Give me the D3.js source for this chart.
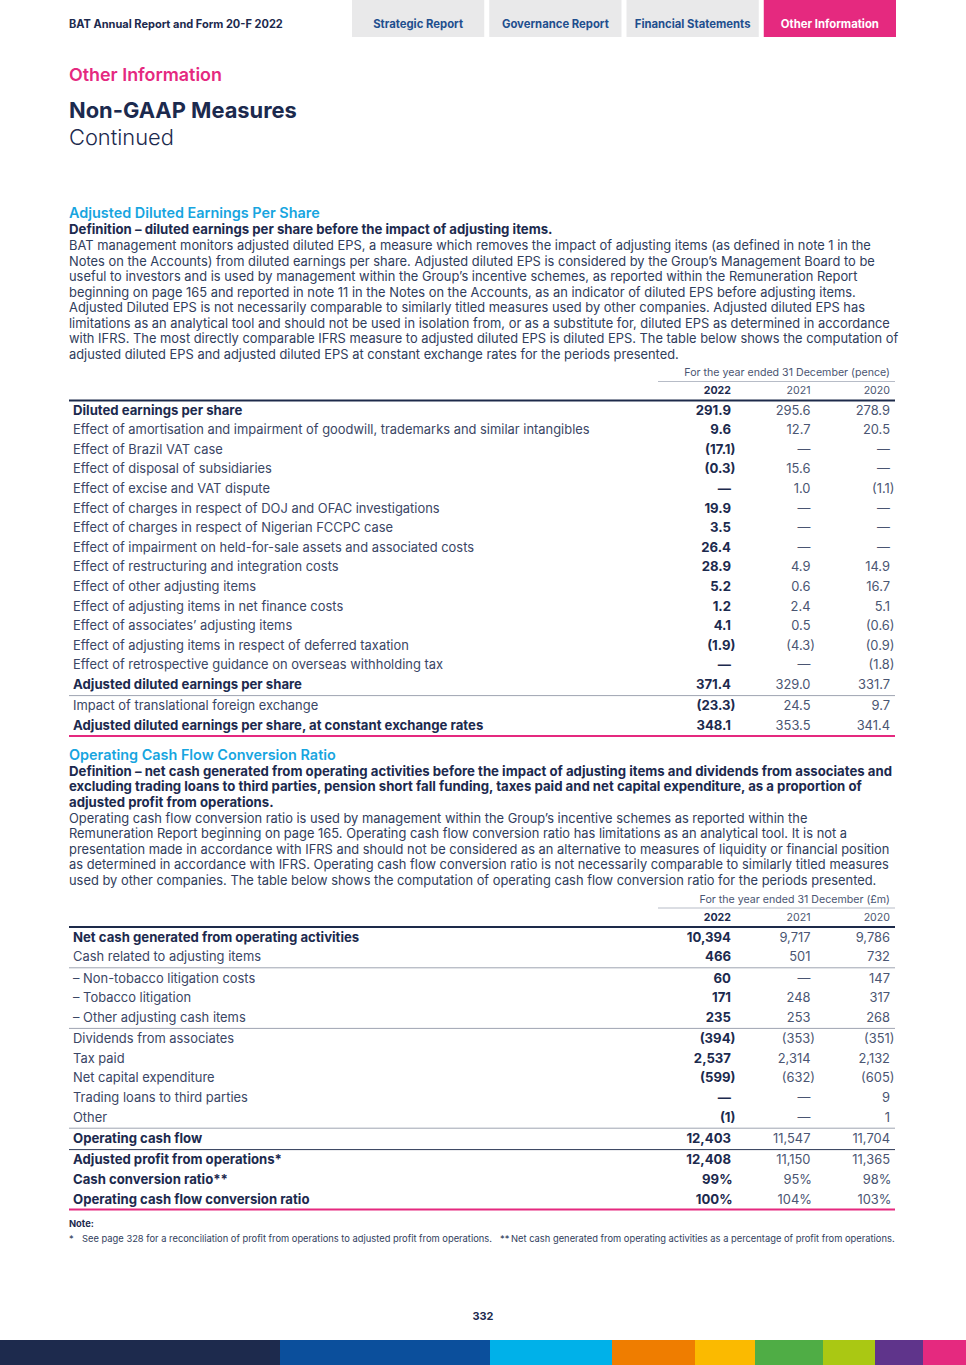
<!DOCTYPE html>
<html><head><meta charset="utf-8">
<script src="https://cdn.jsdelivr.net/npm/d3@7"></script>
<style>
html,body{margin:0;padding:0;background:#fff;}
svg{display:block;}
</style></head><body>
<svg id="page" width="966" height="1365"></svg>
<script>
// ---------------- DATA ----------------
const years = ["2022", "2021", "2020"];

const navTabs = ["Strategic Report", "Governance Report", "Financial Statements", "Other Information"];
const activeTab = "Other Information";
const reportTitle = "BAT Annual Report and Form 20-F 2022";
const kicker = "Other Information";
const pageTitle = "Non-GAAP Measures";
const pageSubtitle = "Continued";

const epsHeading = "Adjusted Diluted Earnings Per Share";
const epsDefinition = ["Definition – diluted earnings per share before the impact of adjusting items."];
const epsBody = [
  "BAT management monitors adjusted diluted EPS, a measure which removes the impact of adjusting items (as defined in note 1 in the",
  "Notes on the Accounts) from diluted earnings per share. Adjusted diluted EPS is considered by the Group’s Management Board to be",
  "useful to investors and is used by management within the Group’s incentive schemes, as reported within the Remuneration Report",
  "beginning on page 165 and reported in note 11 in the Notes on the Accounts, as an indicator of diluted EPS before adjusting items.",
  "Adjusted Diluted EPS is not necessarily comparable to similarly titled measures used by other companies. Adjusted diluted EPS has",
  "limitations as an analytical tool and should not be used in isolation from, or as a substitute for, diluted EPS as determined in accordance",
  "with IFRS. The most directly comparable IFRS measure to adjusted diluted EPS is diluted EPS. The table below shows the computation of",
  "adjusted diluted EPS and adjusted diluted EPS at constant exchange rates for the periods presented."
];
const epsUnit = "For the year ended 31 December (pence)";
const epsRows = [
  "Diluted earnings per share",
  "Effect of amortisation and impairment of goodwill, trademarks and similar intangibles",
  "Effect of Brazil VAT case",
  "Effect of disposal of subsidiaries",
  "Effect of excise and VAT dispute",
  "Effect of charges in respect of DOJ and OFAC investigations",
  "Effect of charges in respect of Nigerian FCCPC case",
  "Effect of impairment on held-for-sale assets and associated costs",
  "Effect of restructuring and integration costs",
  "Effect of other adjusting items",
  "Effect of adjusting items in net finance costs",
  "Effect of associates’ adjusting items",
  "Effect of adjusting items in respect of deferred taxation",
  "Effect of retrospective guidance on overseas withholding tax",
  "Adjusted diluted earnings per share",
  "Impact of translational foreign exchange",
  "Adjusted diluted earnings per share, at constant exchange rates"
];
const eps2022 = ["291.9","9.6","(17.1)","(0.3)","—","19.9","3.5","26.4","28.9","5.2","1.2","4.1","(1.9)","—","371.4","(23.3)","348.1"];
const eps2021 = ["295.6","12.7","—","15.6","1.0","—","—","—","4.9","0.6","2.4","0.5","(4.3)","—","329.0","24.5","353.5"];
const eps2020 = ["278.9","20.5","—","—","(1.1)","—","—","—","14.9","16.7","5.1","(0.6)","(0.9)","(1.8)","331.7","9.7","341.4"];
const epsTotals = ["Diluted earnings per share","Adjusted diluted earnings per share","Adjusted diluted earnings per share, at constant exchange rates"];
const epsRulesAfter = [{after: "Adjusted diluted earnings per share", kind: "light"}];

const ocfHeading = "Operating Cash Flow Conversion Ratio";
const ocfDefinition = [
  "Definition – net cash generated from operating activities before the impact of adjusting items and dividends from associates and",
  "excluding trading loans to third parties, pension short fall funding, taxes paid and net capital expenditure, as a proportion of",
  "adjusted profit from operations."
];
const ocfBody = [
  "Operating cash flow conversion ratio is used by management within the Group’s incentive schemes as reported within the",
  "Remuneration Report beginning on page 165. Operating cash flow conversion ratio has limitations as an analytical tool. It is not a",
  "presentation made in accordance with IFRS and should not be considered as an alternative to measures of liquidity or financial position",
  "as determined in accordance with IFRS. Operating cash flow conversion ratio is not necessarily comparable to similarly titled measures",
  "used by other companies. The table below shows the computation of operating cash flow conversion ratio for the periods presented."
];
const ocfUnit = "For the year ended 31 December (£m)";
const ocfRows = [
  "Net cash generated from operating activities",
  "Cash related to adjusting items",
  "– Non-tobacco litigation costs",
  "– Tobacco litigation",
  "– Other adjusting cash items",
  "Dividends from associates",
  "Tax paid",
  "Net capital expenditure",
  "Trading loans to third parties",
  "Other",
  "Operating cash flow",
  "Adjusted profit from operations*",
  "Cash conversion ratio**",
  "Operating cash flow conversion ratio"
];
const ocf2022 = ["10,394","466","60","171","235","(394)","2,537","(599)","—","(1)","12,403","12,408","99%","100%"];
const ocf2021 = ["9,717","501","—","248","253","(353)","2,314","(632)","—","—","11,547","11,150","95%","104%"];
const ocf2020 = ["9,786","732","147","317","268","(351)","2,132","(605)","9","1","11,704","11,365","98%","103%"];
const ocfTotals = ["Net cash generated from operating activities","Operating cash flow","Adjusted profit from operations*","Cash conversion ratio**","Operating cash flow conversion ratio"];
const ocfRulesAfter = [
  {after: "Cash related to adjusting items", kind: "light"},
  {after: "– Other adjusting cash items", kind: "light"},
  {after: "Other", kind: "light"},
  {after: "Operating cash flow", kind: "dark"}
];

const noteTitle = "Note:";
const notes = [
  {mark: "*", text: "See page 328 for a reconciliation of profit from operations to adjusted profit from operations."},
  {mark: "**", text: "Net cash generated from operating activities as a percentage of profit from operations."}
];
const pageNumber = "332";
const barColors = ["#1d2a4d","#0b4f9c","#00b1e9","#ef7d00","#fbba00","#4fad45","#aac813","#5f348b","#e5297f"];
const barStops = [0, 280, 490, 612, 695, 755, 823, 875, 923, 966];

// ---------------- DRAW ----------------
const FONT = "Inter, 'Noto Sans', sans-serif";
const NAVY = "#1c2a4e", BODY = "#303d5c", LABEL = "#3a4665", PINK = "#e5297f", CYAN = "#17a5df", TABBLUE = "#1f4f8e";

function draw() {
  const svg = d3.select("#page");
  const meas = svg.append("text").attr("x", -2000).attr("y", -2000).style("font-family", FONT);
  function fit(sample, weight, target) {
    meas.style("font-weight", weight).style("font-size", "20px").text(sample);
    const w = meas.node().getComputedTextLength();
    return 20 * target / w;
  }
  const S = {
    header: fit(reportTitle, 700, 214),
    tab: fit("Governance Report", 700, 107),
    kicker: fit(kicker, 600, 153),
    title: fit(pageTitle, 700, 228),
    subtitle: fit(pageSubtitle, 300, 105),
    section: fit(epsHeading, 600, 251),
    defn: fit(epsDefinition[0], 700, 484),
    body: fit(epsBody[0], 400, 803),
    unit: fit(epsUnit, 400, 206),
    label: fit(epsRows[1], 400, 517),
    labelB: fit(epsRows[16], 700, 411),
    note: fit(notes[1].text, 400, 384),
    page: fit(pageNumber, 700, 21)
  };
  meas.remove();

  function txt(g, x, y, s, size, weight, fill, anchor) {
    return g.append("text").attr("x", x).attr("y", y).text(s)
      .style("font-family", FONT).style("font-size", size + "px")
      .style("font-weight", weight).attr("fill", fill)
      .attr("text-anchor", anchor || "start");
  }

  // header
  txt(svg, 69, 27.5, reportTitle, S.header, 700, NAVY);
  const tabX = d3.scaleBand().domain(navTabs).range([352, 896]).paddingInner(0.0365);
  const tabs = svg.append("g").selectAll("g").data(navTabs).join("g");
  tabs.append("rect").attr("x", d => tabX(d)).attr("y", 0).attr("width", tabX.bandwidth()).attr("height", 37)
    .attr("fill", d => d === activeTab ? PINK : "#e9e9ea");
  tabs.append("text").attr("x", d => tabX(d) + tabX.bandwidth() / 2).attr("y", 27.5)
    .attr("text-anchor", "middle").text(d => d)
    .style("font-family", FONT).style("font-size", S.tab + "px").style("font-weight", 700)
    .attr("fill", d => d === activeTab ? "#fff" : TABBLUE);

  txt(svg, 69, 81, kicker, S.kicker, 600, PINK);
  txt(svg, 69, 118, pageTitle, S.title, 700, NAVY);
  txt(svg, 69, 145, pageSubtitle, S.subtitle, 300, NAVY);

  function block(lines, y0, size, weight, fill) {
    const g = svg.append("g");
    const ys = d3.scaleLinear().domain([0, 1]).range([y0, y0 + 15.55]);
    g.selectAll("text").data(lines).join("text")
      .attr("x", 69).attr("y", (d, i) => ys(i)).text(d => d)
      .style("font-family", FONT).style("font-size", size + "px").style("font-weight", weight)
      .attr("fill", fill);
  }

  // Section 1
  txt(svg, 69, 218, epsHeading, S.section, 600, CYAN);
  block(epsDefinition, 234, S.defn, 700, NAVY);
  block(epsBody, 250, S.body, 400, BODY);

  // Section 2
  txt(svg, 69, 760, ocfHeading, S.section, 600, CYAN);
  block(ocfDefinition, 775.5, S.defn, 700, NAVY);
  block(ocfBody, 822.5, S.body, 400, BODY);

  const colX = d3.scalePoint().domain(years).range([731, 890]);

  function table(rows, v22, v21, v20, totals, rules, unit, unitY, firstRowY) {
    const g = svg.append("g");
    const vals = {"2022": v22, "2021": v21, "2020": v20};
    // unit label + thin rule
    txt(g, 890, unitY + 4, unit, S.unit, 400, "#4a5572", "end");
    g.append("line").attr("x1", 658).attr("x2", 895).attr("y1", unitY + 9.5).attr("y2", unitY + 9.5)
      .attr("stroke", "#b7bcc7").attr("stroke-width", 1);
    // year headers
    years.forEach(yr => {
      txt(g, colX(yr), unitY + 22, yr, S.unit, yr === "2022" ? 700 : 400, yr === "2022" ? NAVY : "#4a5572", "end");
    });
    g.append("line").attr("x1", 69).attr("x2", 895).attr("y1", unitY + 28.5).attr("y2", unitY + 28.5)
      .attr("stroke", "#1d2a4a").attr("stroke-width", 2);

    const ruleIdx = rules.map(r => rows.indexOf(r.after));
    const base = d3.scaleLinear().domain([0, 1]).range([firstRowY, firstRowY + 19.6]);
    const rowY = i => base(i) + 1.8 * ruleIdx.filter(r => r < i).length;

    rows.forEach((lab, i) => {
      const bold = totals.includes(lab);
      const y = rowY(i) + 4.5;
      txt(g, 73, y, lab, bold ? S.labelB : S.label, bold ? 700 : 400, bold ? NAVY : LABEL);
      years.forEach(yr => {
        const v = vals[yr][i];
        const b = yr === "2022";
        const hang = v.endsWith(")") ? 4.5 : (v.endsWith("%") ? 1.5 : 0);
        txt(g, colX(yr) + hang, y, v, b ? S.labelB : S.label, b ? 700 : 400, b ? NAVY : "#4a5572", "end");
      });
    });
    rules.forEach((r, k) => {
      const i = ruleIdx[k];
      const y = (rowY(i) + rowY(i + 1)) / 2 + 0.5;
      g.append("line").attr("x1", 69).attr("x2", 895).attr("y1", y).attr("y2", y)
        .attr("stroke", r.kind === "dark" ? "#2c3855" : "#9ea4b1").attr("stroke-width", 1);
    });
    const yEnd = rowY(rows.length - 1) + 10.5;
    g.append("line").attr("x1", 69).attr("x2", 895).attr("y1", yEnd).attr("y2", yEnd)
      .attr("stroke", PINK).attr("stroke-width", 2);
  }

  table(epsRows, eps2022, eps2021, eps2020, epsTotals, epsRulesAfter, epsUnit, 372, 410);
  table(ocfRows, ocf2022, ocf2021, ocf2020, ocfTotals, ocfRulesAfter, ocfUnit, 898.5, 937);

  // notes
  txt(svg, 69, 1227, noteTitle, S.note, 700, NAVY);
  txt(svg, 69, 1241.5, notes[0].mark, S.note, 400, BODY);
  txt(svg, 82, 1241.5, notes[0].text, S.note, 400, BODY);
  txt(svg, 500, 1241.5, notes[1].mark, S.note, 400, BODY);
  txt(svg, 511, 1241.5, notes[1].text, S.note, 400, BODY);

  txt(svg, 483, 1320, pageNumber, S.page, 700, NAVY, "middle");

  // colour bar
  const bx = d3.scaleLinear().domain([0, 966]).range([0, 966]);
  svg.append("g").selectAll("rect").data(barColors).join("rect")
    .attr("x", (d, i) => bx(barStops[i])).attr("y", 1340)
    .attr("width", (d, i) => bx(barStops[i + 1]) - bx(barStops[i])).attr("height", 25)
    .attr("fill", d => d);
}

if (document.fonts && document.fonts.ready) { document.fonts.ready.then(draw); } else { draw(); }
</script>
</body></html>
